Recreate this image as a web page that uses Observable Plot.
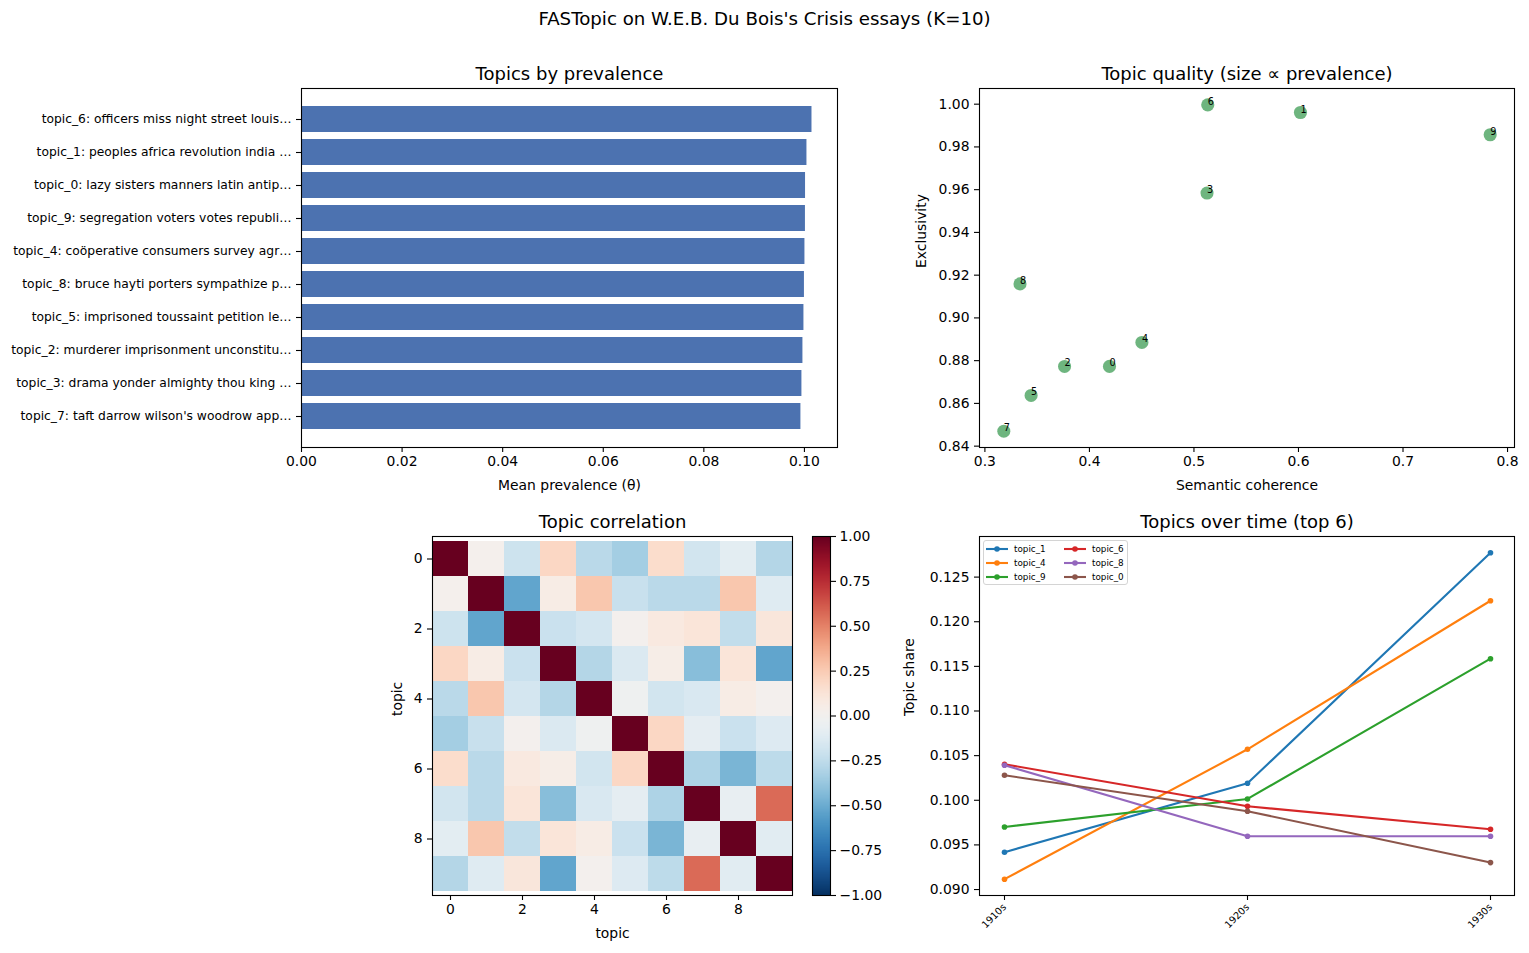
<!DOCTYPE html>
<html>
<head>
<meta charset="utf-8">
<script src="https://cdn.jsdelivr.net/npm/d3@7"></script>
<script src="https://cdn.jsdelivr.net/npm/@observablehq/plot@0.6"></script>
<style>
  body { margin: 0; background: #fff; }
  #fig { position: relative; width: 1529px; height: 953px; overflow: hidden; background: #fff; font-family: "DejaVu Sans", sans-serif; }
  #fig svg { position: absolute; left: 0; top: 0; }
  .sup { position: absolute; left: 0; top: 9px; width: 1529px; height: 20px; line-height: 20px; text-align: center; font-size: 18.2px; color: #000; }
</style>
</head>
<body>
<div id="fig"><div class="sup">FASTopic on W.E.B. Du Bois's Crisis essays (K=10)</div></div>
<script>
// ---------------- DATA ----------------
const topicIds = [0, 1, 2, 3, 4, 5, 6, 7, 8, 9];
const topicLabels = [
  "topic_0: lazy sisters manners latin antip…",
  "topic_1: peoples africa revolution india …",
  "topic_2: murderer imprisonment unconstitu…",
  "topic_3: drama yonder almighty thou king …",
  "topic_4: coöperative consumers survey agr…",
  "topic_5: imprisoned toussaint petition le…",
  "topic_6: officers miss night street louis…",
  "topic_7: taft darrow wilson's woodrow app…",
  "topic_8: bruce hayti porters sympathize p…",
  "topic_9: segregation voters votes republi…"
];
const prevalence = [0.10022, 0.1005, 0.0997, 0.0995, 0.1001, 0.0999, 0.1015, 0.0993, 0.1000, 0.10020];
const coherence = [0.4192, 0.6019, 0.3762, 0.5125, 0.4502, 0.3442, 0.5132, 0.3181, 0.3336, 0.7834];
const exclusivity = [0.8773, 0.9961, 0.8773, 0.9584, 0.8885, 0.8637, 0.9997, 0.8470, 0.9159, 0.9857];

const corrMatrix = [
  [ 1.00,  0.02, -0.20,  0.20, -0.27, -0.34,  0.17, -0.18, -0.10, -0.29],
  [ 0.02,  1.00, -0.53,  0.06,  0.27, -0.22, -0.27, -0.27,  0.27, -0.12],
  [-0.20, -0.53,  1.00, -0.21, -0.17,  0.01,  0.09,  0.12, -0.24,  0.11],
  [ 0.20,  0.06, -0.21,  1.00, -0.29, -0.14,  0.05, -0.42,  0.12, -0.53],
  [-0.27,  0.27, -0.17, -0.29,  1.00, -0.03, -0.18, -0.15,  0.06,  0.01],
  [-0.34, -0.22,  0.01, -0.14, -0.03,  1.00,  0.20, -0.09, -0.21, -0.13],
  [ 0.17, -0.27,  0.09,  0.05, -0.18,  0.20,  1.00, -0.31, -0.46, -0.26],
  [-0.18, -0.27,  0.12, -0.42, -0.15, -0.09, -0.31,  1.00, -0.07,  0.57],
  [-0.10,  0.27, -0.24,  0.12,  0.06, -0.21, -0.46, -0.07,  1.00, -0.11],
  [-0.29, -0.12,  0.11, -0.53,  0.01, -0.13, -0.26,  0.57, -0.11,  1.00]
];

const decades = ["1910s", "1920s", "1930s"];
const lineTopics = ["topic_1", "topic_4", "topic_9", "topic_6", "topic_8", "topic_0"];
const lineColors = ["#1f77b4", "#ff7f0e", "#2ca02c", "#d62728", "#9467bd", "#8c564b"];
const share_topic_1 = [0.09418, 0.10190, 0.12772];
const share_topic_4 = [0.09116, 0.10571, 0.12235];
const share_topic_9 = [0.09701, 0.10015, 0.11586];
const share_topic_6 = [0.10403, 0.09933, 0.09675];
const share_topic_8 = [0.10392, 0.09597, 0.09597];
const share_topic_0 = [0.10280, 0.09877, 0.09302];
const shares = [share_topic_1, share_topic_4, share_topic_9, share_topic_6, share_topic_8, share_topic_0];

const barTicks = [0, 0.02, 0.04, 0.06, 0.08, 0.10];
const cohTicks = [0.3, 0.4, 0.5, 0.6, 0.7, 0.8];
const excTicks = [0.84, 0.86, 0.88, 0.90, 0.92, 0.94, 0.96, 0.98, 1.00];
const heatTicks = [0, 2, 4, 6, 8];
const cbarTicks = [-1, -0.75, -0.5, -0.25, 0, 0.25, 0.5, 0.75, 1];
const shareTicks = [0.090, 0.095, 0.100, 0.105, 0.110, 0.115, 0.120, 0.125];

// ---------------- LAYOUT ----------------
const W = 1529, H = 953;
const FONT = "DejaVu Sans";
const P1 = {l: 301, r: 837, t: 88, b: 447};
const P2 = {l: 979, r: 1514, t: 88, b: 447};
const P3 = {l: 432, r: 792, t: 536, b: 895};
const CB = {l: 812, r: 830, t: 536, b: 895};
const P4 = {l: 979, r: 1514, t: 536, b: 895};
const fig = document.getElementById("fig");

function box(p) {
  return {width: W, height: H, marginLeft: p.l, marginRight: W - p.r, marginTop: p.t, marginBottom: H - p.b,
    style: {background: "transparent", fontFamily: FONT, fontSize: "13.9px", color: "black", overflow: "visible"}};
}
function mount(svg) { svg.style.position = "absolute"; svg.style.left = "0px"; svg.style.top = "0px"; fig.appendChild(svg); }
const title = (t) => Plot.text([t], {text: d => d, frameAnchor: "top", dy: -14, fontSize: 18, lineAnchor: "middle", fill: "black"});
const xlab = (t) => Plot.text([t], {text: d => d, frameAnchor: "bottom", dy: 38, fontSize: 13.9, lineAnchor: "middle", fill: "black"});
const ylab = (t, dx) => Plot.text([t], {text: d => d, frameAnchor: "left", dx, rotate: -90, fontSize: 13.9, lineAnchor: "middle", fill: "black"});
const frame = () => Plot.frame({stroke: "black", strokeWidth: 1.1});
const margin5 = (vals) => { const [a, b] = d3.extent(vals); const m = (b - a) * 0.05; return [a - m, b + m]; };

// ---------------- PANEL 1: bars ----------------
const bars = topicIds.map(i => ({label: topicLabels[i], value: prevalence[i]}))
  .sort((a, b) => d3.descending(a.value, b.value));
mount(Plot.plot({
  ...box(P1),
  x: {domain: [0, d3.max(prevalence) * 1.05]},
  y: {domain: bars.map(d => d.label), paddingInner: 0.2, paddingOuter: 0.49, align: 0.5},
  marks: [
    Plot.barX(bars, {x: "value", y: "label", fill: "#4c72b0"}),
    frame(),
    Plot.axisX({ticks: barTicks, tickFormat: d3.format(".2f"), tickSize: 5, tickPadding: 4, strokeWidth: 1.1, label: null}),
    Plot.axisY({tickSize: 5, tickPadding: 5, fontSize: 12.3, strokeWidth: 1.1, label: null}),
    title("Topics by prevalence"),
    xlab("Mean prevalence (θ)")
  ]
}));

// ---------------- PANEL 2: scatter ----------------
const qual = topicIds.map(i => ({id: String(i), x: coherence[i], y: exclusivity[i], p: prevalence[i]}));
mount(Plot.plot({
  ...box(P2),
  x: {domain: margin5(coherence)},
  y: {domain: margin5(exclusivity)},
  r: {type: "sqrt", domain: [0, d3.max(prevalence)], range: [0, 6.6]},
  marks: [
    Plot.dot(qual, {x: "x", y: "y", r: "p", fill: "#55a868", fillOpacity: 0.85, stroke: null}),
    Plot.text(qual, {x: "x", y: "y", text: "id", textAnchor: "start", lineAnchor: "middle", dy: -3.1, fontSize: 9.7, fill: "black"}),
    frame(),
    Plot.axisX({ticks: cohTicks, tickFormat: d3.format(".1f"), tickSize: 5, tickPadding: 4, strokeWidth: 1.1, label: null}),
    Plot.axisY({ticks: excTicks, tickFormat: d3.format(".2f"), tickSize: 5, tickPadding: 5, strokeWidth: 1.1, label: null}),
    title("Topic quality (size ∝ prevalence)"),
    xlab("Semantic coherence"),
    ylab("Exclusivity", -58)
  ]
}));

// ---------------- PANEL 3: heatmap ----------------
const cells = corrMatrix.flatMap((row, i) => row.map((v, j) => ({i, j, v})));
const colorScale = {type: "linear", scheme: "rdbu", domain: [-1, 1], reverse: true};
mount(Plot.plot({
  ...box(P3),
  x: {type: "band", domain: topicIds, padding: 0},
  y: {type: "band", domain: topicIds, padding: 0},
  color: colorScale,
  marks: [
    Plot.cell(cells, {x: "j", y: "i", fill: "v", inset: 0, shapeRendering: "crispEdges"}),
    frame(),
    Plot.axisX({ticks: heatTicks, tickSize: 5, tickPadding: 4, strokeWidth: 1.1, label: null}),
    Plot.axisY({ticks: heatTicks, tickSize: 5, tickPadding: 5, strokeWidth: 1.1, label: null}),
    title("Topic correlation"),
    xlab("topic"),
    ylab("topic", -35)
  ]
}));

// colorbar
mount(Plot.plot({
  ...box(CB),
  x: {domain: [0, 1], axis: null},
  y: {domain: [-1, 1]},
  color: colorScale,
  marks: [
    Plot.raster({x1: 0, x2: 1, y1: -1, y2: 1, width: 1, height: 256, fill: (x, y) => y, imageRendering: "auto"}),
    frame(),
    Plot.axisY({anchor: "right", ticks: cbarTicks, tickFormat: d3.format(".2f"), tickSize: 5, tickPadding: 4, strokeWidth: 1.1, label: null})
  ]
}));

// ---------------- PANEL 4: lines ----------------
const series = lineTopics.flatMap((t, k) => decades.map((d, j) => ({topic: t, decade: d, value: shares[k][j]})));
mount(Plot.plot({
  ...box(P4),
  x: {type: "point", domain: decades, padding: 0.1},
  y: {domain: margin5(shares.flat())},
  color: {domain: lineTopics, range: lineColors},
  marks: [
    Plot.line(series, {x: "decade", y: "value", stroke: "topic", z: "topic", strokeWidth: 2.1}),
    Plot.dot(series, {x: "decade", y: "value", fill: "topic", r: 2.8, stroke: null}),
    frame(),
    Plot.axisX({tickRotate: -45, fontSize: 9.7, tickSize: 5, tickPadding: 5, strokeWidth: 1.1, label: null}),
    Plot.axisY({ticks: shareTicks, tickFormat: d3.format(".3f"), tickSize: 5, tickPadding: 5, strokeWidth: 1.1, label: null}),
    title("Topics over time (top 6)"),
    ylab("Topic share", -70)
  ]
}));

// legend (upper left, 2 columns)
const leg = document.createElement("div");
leg.style.cssText = "position:absolute;left:983px;top:540px;width:143px;height:43px;border:1px solid #d4d4d4;border-radius:3px;background:rgba(255,255,255,0.8);font-family:'DejaVu Sans';font-size:8.8px;color:#000;";
const rowsPerCol = 3;
lineTopics.forEach((t, k) => {
  const col = Math.floor(k / rowsPerCol), row = k % rowsPerCol;
  const item = document.createElement("div");
  const left = col === 0 ? 2 : 80;
  const cy = [8.3, 22.3, 35.7][row];
  item.style.cssText = `position:absolute;left:${left}px;top:${cy - 7}px;height:14px;line-height:14px;white-space:nowrap;`;
  item.innerHTML = `<svg width="22" height="14" style="position:static;vertical-align:top"><line x1="0" y1="7" x2="22" y2="7" stroke="${lineColors[k]}" stroke-width="2.1"/><circle cx="11" cy="7" r="2.8" fill="${lineColors[k]}"/></svg><span style="margin-left:6px">${t}</span>`;
  leg.appendChild(item);
});
fig.appendChild(leg);
</script>
</body>
</html>
